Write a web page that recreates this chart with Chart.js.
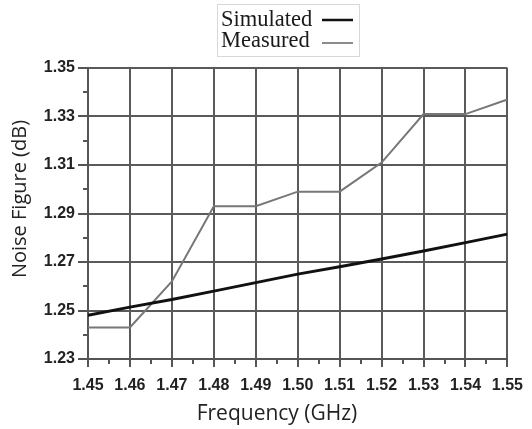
<!DOCTYPE html>
<html>
<head>
<meta charset="utf-8">
<script src="https://cdn.jsdelivr.net/npm/chart.js@4/dist/chart.umd.min.js"></script>
<style>
html,body{margin:0;padding:0;background:#fff;overflow:hidden;}
#wrap{position:relative;width:532px;height:429px;}
</style>
</head>
<body>
<div id="wrap"><canvas id="c" width="532" height="429"></canvas></div>
<script>
// Data
const frequencies = [1.45, 1.46, 1.47, 1.48, 1.49, 1.50, 1.51, 1.52, 1.53, 1.54, 1.55];
const simulated   = [1.248, 1.2514, 1.2545, 1.258, 1.2615, 1.265, 1.268, 1.2712, 1.2745, 1.278, 1.2815];
const measured    = [1.243, 1.243, 1.262, 1.293, 1.293, 1.299, 1.299, 1.311, 1.331, 1.331, 1.337];
const seriesNames = ['Simulated', 'Measured'];
const xTitle = 'Frequency (GHz)';
const yTitle = 'Noise Figure (dB)';
const xMinorTicks = [1.455, 1.465, 1.475, 1.485, 1.495, 1.505, 1.515, 1.525, 1.535, 1.545];
const yMinorTicks = [1.24, 1.26, 1.28, 1.30, 1.32, 1.34];

const GRID = '#5a5a5a';
const isMajorY = v => Math.round(v * 100) % 2 === 1;

const extras = {
  id: 'extras',
  afterDraw(chart) {
    const ctx = chart.ctx;
    const xs = chart.scales.x, ys = chart.scales.y;
    const ca = chart.chartArea;
    ctx.save();
    // minor ticks
    ctx.strokeStyle = '#555';
    ctx.lineWidth = 2;
    xMinorTicks.forEach(v => {
      const px = Math.round(xs.getPixelForValue(v));
      ctx.beginPath(); ctx.moveTo(px, ca.bottom); ctx.lineTo(px, ca.bottom + 5); ctx.stroke();
    });
    yMinorTicks.forEach(v => {
      const py = Math.round(ys.getPixelForValue(v));
      ctx.beginPath(); ctx.moveTo(ca.left, py); ctx.lineTo(ca.left - 5, py); ctx.stroke();
    });
    // axis titles
    ctx.fillStyle = '#222';
    ctx.textAlign = 'center';
    ctx.textBaseline = 'middle';
    ctx.font = '21px "Open Sans"';
    ctx.fillText(xTitle, 277, 414);
    ctx.save();
    ctx.translate(20, 199);
    ctx.rotate(-Math.PI / 2);
    ctx.font = '20px "Open Sans"';
    ctx.fillText(yTitle, 0, 0);
    ctx.restore();
    // legend
    ctx.strokeStyle = '#d8d8d8';
    ctx.lineWidth = 1;
    ctx.strokeRect(217.5, 4.5, 142, 52);
    ctx.font = '22.5px "Liberation Serif"';
    ctx.textAlign = 'left';
    ctx.textBaseline = 'alphabetic';
    ctx.fillStyle = '#1a1a1a';
    const ds = chart.data.datasets;
    const rows = [{y: 26, ly: 20}, {y: 47, ly: 43}];
    ds.forEach((d, i) => {
      ctx.fillText(d.label, 221, rows[i].y);
      ctx.strokeStyle = i === 0 ? '#111' : '#666';
      ctx.lineWidth = i === 0 ? 2.5 : 1.5;
      ctx.beginPath(); ctx.moveTo(322, rows[i].ly); ctx.lineTo(353, rows[i].ly); ctx.stroke();
    });
    ctx.restore();
  }
};

new Chart(document.getElementById('c'), {
  type: 'line',
  data: {
    datasets: [
      {
        label: seriesNames[0],
        data: frequencies.map((f, i) => ({x: f, y: simulated[i]})),
        borderColor: '#111',
        borderWidth: 3,
        pointRadius: 0,
        tension: 0
      },
      {
        label: seriesNames[1],
        data: frequencies.map((f, i) => ({x: f, y: measured[i]})),
        borderColor: '#777',
        borderWidth: 2,
        pointRadius: 0,
        tension: 0
      }
    ]
  },
  options: {
    responsive: false,
    animation: false,
    layout: {padding: {top: 68, right: 19, left: 0, bottom: 0}},
    plugins: {legend: {display: false}, tooltip: {enabled: false}},
    scales: {
      x: {
        type: 'linear',
        min: 1.45, max: 1.55,
        afterFit: s => { s.height = 70; },
        grid: {color: GRID, lineWidth: 2, tickLength: 8, tickColor: '#555'},
        border: {color: '#555', width: 2},
        ticks: {
          stepSize: 0.01, autoSkip: false, maxRotation: 0, padding: 9,
          color: '#222',
          font: {family: '"Liberation Sans", Arial', size: 16, weight: 'bold'},
          callback: v => v.toFixed(2)
        }
      },
      y: {
        min: 1.23, max: 1.35,
        afterFit: s => { s.width = 88; },
        grid: {
          color: c => isMajorY(c.tick.value) ? GRID : 'rgba(0,0,0,0)',
          tickColor: c => isMajorY(c.tick.value) ? '#555' : 'rgba(0,0,0,0)',
          lineWidth: 2, tickLength: 10
        },
        border: {color: '#555', width: 2},
        ticks: {
          stepSize: 0.01, autoSkip: false, padding: 3,
          color: '#222',
          font: {family: '"Liberation Sans", Arial', size: 16, weight: 'bold'},
          callback: v => isMajorY(v) ? v.toFixed(2) : ''
        }
      }
    }
  },
  plugins: [extras]
});
</script>
</body>
</html>
